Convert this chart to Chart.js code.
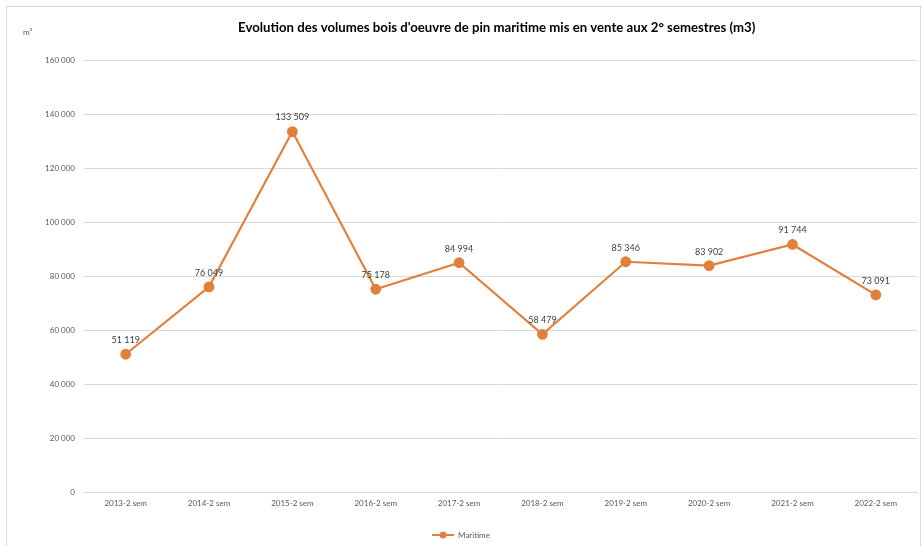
<!DOCTYPE html>
<html lang="fr">
<head>
<meta charset="utf-8">
<title>Volumes pin maritime</title>
<script src="https://cdn.jsdelivr.net/npm/chart.js@4"></script>
<style>
  html, body { margin: 0; padding: 0; background: #fff; }
  #cadre { position: absolute; left: 6px; top: 6px; width: 915px; height: 545px; border: 1px solid #d9d9d9; box-sizing: border-box; }
  #zone { position: absolute; left: 0; top: 0; width: 924px; height: 546px; }
</style>
</head>
<body>
<div id="cadre"></div>
<div id="zone"><canvas id="graphique" width="924" height="546"></canvas></div>
<script>
// Volumes mis en vente, 2e semestre de chaque année (m3)
const titre = "Evolution des volumes bois d'oeuvre de pin maritime mis en vente aux 2° semestres (m3)";
const semestres = ['2013-2 sem', '2014-2 sem', '2015-2 sem', '2016-2 sem', '2017-2 sem',
                   '2018-2 sem', '2019-2 sem', '2020-2 sem', '2021-2 sem', '2022-2 sem'];
const volumesMaritime = [51119, 76049, 133509, 75178, 84994, 58479, 85346, 83902, 91744, 73091];
const graduationsY = [0, 20000, 40000, 60000, 80000, 100000, 120000, 140000, 160000];

const orange = '#E0803C';
const police = 'Lato, "Open Sans", sans-serif';

// format "133 509"
function formaterNombre(v) {
    return String(v).replace(/\B(?=(\d{3})+(?!\d))/g, ' ');
}

// petite image ligne + rond pour la légende
function symboleLegende() {
    const c = document.createElement('canvas');
    c.width = 22; c.height = 8;
    const ctx = c.getContext('2d');
    ctx.strokeStyle = orange;
    ctx.lineWidth = 2;
    ctx.beginPath(); ctx.moveTo(0, 4); ctx.lineTo(22, 4); ctx.stroke();
    ctx.fillStyle = orange;
    ctx.beginPath(); ctx.arc(11, 4, 3.5, 0, Math.PI * 2); ctx.fill();
    return c;
}

// titre centré sur la zone de tracé, étiquettes de valeur, unité
const habillage = {
    id: 'habillage',
    afterDatasetsDraw(chart) {
        const ctx = chart.ctx;
        const zone = chart.chartArea;
        const meta = chart.getDatasetMeta(0);
        ctx.save();
        ctx.textBaseline = 'middle';

        ctx.font = 'bold 13.2px ' + police;
        ctx.fillStyle = '#000';
        ctx.textAlign = 'center';
        ctx.fillText(titre, (zone.left + zone.right) / 2 - 4, 28);

        ctx.font = '9px ' + police;
        ctx.fillStyle = '#404040';
        meta.data.forEach(function (pt, i) {
            ctx.fillText(formaterNombre(chart.data.datasets[0].data[i]), pt.x, pt.y - 14);
        });

        ctx.font = '8px ' + police;
        ctx.fillStyle = '#595959';
        ctx.textAlign = 'left';
        ctx.fillText('m³', 23, 32);
        ctx.restore();
    }
};

const config = {
    type: 'line',
    data: {
        labels: semestres,
        datasets: [{
            label: 'Maritime',
            data: volumesMaritime,
            borderColor: orange,
            backgroundColor: orange,
            borderWidth: 2.2,
            pointRadius: 4.3,
            pointBackgroundColor: orange,
            pointBorderColor: orange,
            tension: 0
        }]
    },
    options: {
        responsive: false,
        animation: false,
        layout: { padding: { left: 0, right: 2, top: 60, bottom: -3 } },
        plugins: {
            title: { display: false },
            legend: {
                position: 'bottom',
                labels: {
                    usePointStyle: true,
                    pointStyle: symboleLegende(),
                    pointStyleWidth: 22,
                    boxHeight: 8,
                    color: '#595959',
                    font: { family: police, size: 8 },
                    padding: 3
                }
            },
            tooltip: { enabled: false }
        },
        scales: {
            x: {
                offset: true,
                afterFit(scale) { scale.height += 14; },
                grid: { display: false, drawTicks: false },
                border: { display: true, color: '#d9d9d9' },
                ticks: { color: '#595959', font: { family: police, size: 8 }, padding: 6, maxRotation: 0 }
            },
            y: {
                min: 0,
                max: 160000,
                afterFit(scale) { scale.width = 84; },
                afterBuildTicks(scale) { scale.ticks = graduationsY.map(v => ({ value: v })); },
                grid: { color: '#d9d9d9', drawTicks: false },
                border: { display: false },
                ticks: {
                    color: '#595959',
                    font: { family: police, size: 8 },
                    padding: 9,
                    callback: v => formaterNombre(v)
                }
            }
        }
    },
    plugins: [habillage]
};

new Chart(document.getElementById('graphique'), config);
</script>
</body>
</html>
